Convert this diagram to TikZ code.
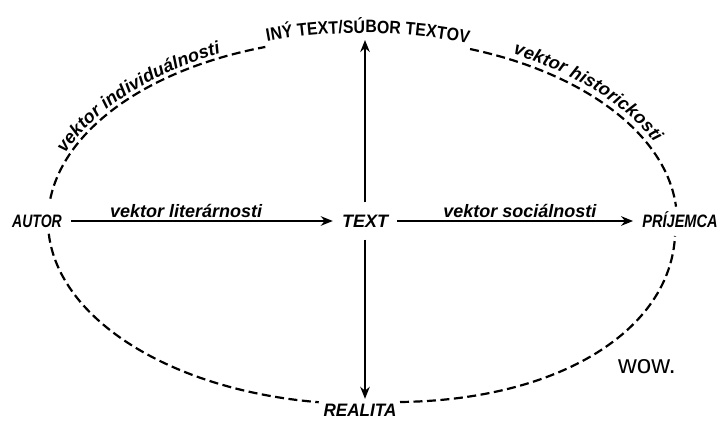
\documentclass[tikz,border=0pt]{standalone}
\usepackage{graphicx}
\usepackage{fontspec}
\setmainfont{Liberation Sans}
\newfontfamily\topfont[FakeStretch=0.88]{Liberation Sans}
\usetikzlibrary{arrows.meta,decorations.text}
\tikzset{
  caplbl/.style={font=\bfseries\itshape\fontsize{18}{18}\selectfont, text height=13pt, text depth=0pt, inner xsep=9pt, inner ysep=4pt},
  vec/.style={line width=2.2pt, -{Stealth[length=12pt,width=9.5pt]}},
  ell/.style={line width=2.2pt, dash pattern=on 9pt off 4.5pt},
  veclbl/.style={font=\bfseries\itshape\fontsize{18}{19}\selectfont, inner sep=2pt}
}
\begin{document}
\begin{tikzpicture}[x=1pt,y=1pt]
\useasboundingbox (0,0) rectangle (722,421);
% nodes
\node[caplbl] (AUTOR) at (37,200) {\scalebox{0.78}[1]{AUTOR}};
\node[caplbl, inner ysep=12pt] (TEXT) at (365,200) {TEXT};
\node[caplbl] (PRIJ) at (680,200) {\scalebox{0.81}[1]{PRÍJEMCA}};
\node[caplbl] (REAL) at (360,11.5) {\scalebox{0.95}[1]{REALITA}};
\coordinate (TOP) at (365,381);
\node[font=\fontsize{26}{26}\selectfont] (WOW) at (647,54) {wow.};
% dashed ellipse
\draw[ell] ([shift={(173:314.5 and 183)}]362.5,200) arc[start angle=173, end angle=108, x radius=314.5, y radius=183];
\draw[ell] ([shift={(70:314.5 and 183)}]362.5,200) arc[start angle=70, end angle=4.5, x radius=314.5, y radius=183];
\draw[ell] ([shift={(184:314.5 and 183)}]362.5,200) arc[start angle=184, end angle=262, x radius=314.5, y radius=183];
\draw[ell] (400,19) .. controls (560,21) and (670,91) .. (675,185);
% texts along the ellipse
\path[decorate, decoration={text along path, text align=center, raise=5pt,
  text={|\topfont\bfseries\fontsize{18}{18}\selectfont|INÝ TEXT/SÚBOR TEXTOV}}]
  ([shift={(108:314.5 and 183)}]362.5,200) arc[start angle=108, end angle=70, x radius=314.5, y radius=183];
\path[decorate, decoration={text along path, text align=center, raise=4pt,
  text={|\bfseries\itshape\fontsize{18}{19}\selectfont|vektor individuálnosti}}]
  ([shift={(160:314.5 and 183)}]362.5,200) arc[start angle=160, end angle=116, x radius=314.5, y radius=183];
\path[decorate, decoration={text along path, text align=center, raise=6pt,
  text={|\bfseries\itshape\fontsize{18}{19}\selectfont|vektor historickosti}}]
  ([shift={(64:314.5 and 183)}]362.5,200) arc[start angle=64, end angle=21, x radius=314.5, y radius=183];
% arrows
\draw[vec] (AUTOR) -- node[veclbl, above, pos=0.44] (L1) {vektor literárnosti} (TEXT);
\draw[vec] (TEXT) -- node[veclbl, above, pos=0.52] (L2) {vektor sociálnosti} (PRIJ);
\draw[vec] (TEXT) -- (TOP);
\draw[vec] (TEXT) -- (TEXT |- REAL.north);
\end{tikzpicture}
\end{document}
